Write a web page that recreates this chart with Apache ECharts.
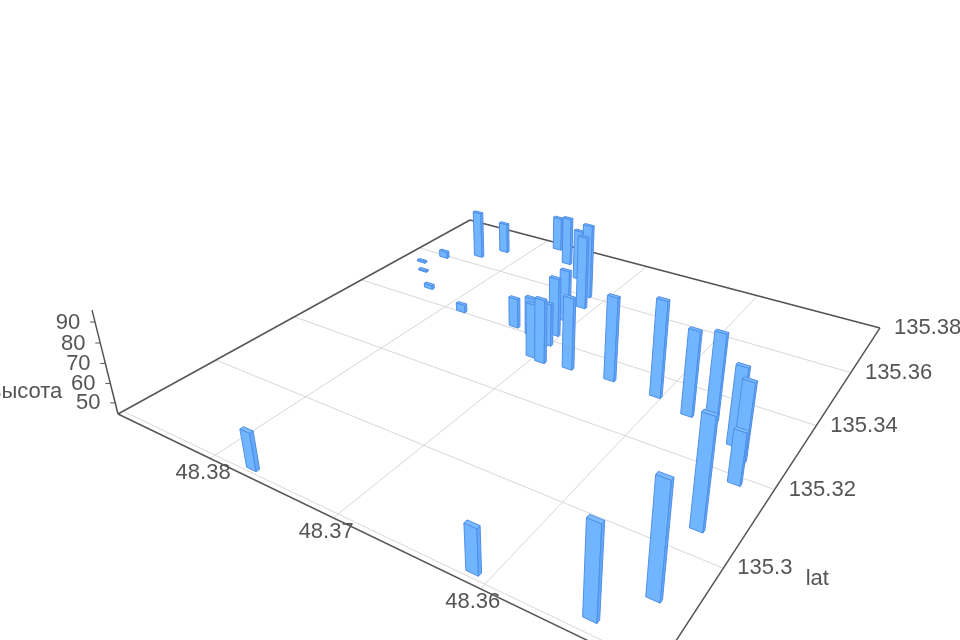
<!DOCTYPE html>
<html><head><meta charset="utf-8"><style>html,body{margin:0;background:#fff}#c{width:960px;height:640px;filter:blur(.6px)}</style>
<script src="https://cdn.jsdelivr.net/npm/echarts@6/dist/echarts.min.js"></script></head><body><div id="c"></div>
<script>
// values
const xValues=[48.3771,48.3610,48.3543,48.3523,48.3526,48.3524,48.3530,48.3539,48.3561,48.3577,48.3604,48.3640,48.3833,48.3820,48.3783,48.3761,48.3716,48.3738,48.3710,48.3710,48.3705,48.3672,48.3737,48.3720,48.3702,48.3693,48.3702,48.3857,48.3867,48.3855,48.3831,48.3785];
const yValues=[135.2809,135.2811,135.2824,135.2899,135.3054,135.3182,135.3241,135.3273,135.3320,135.3312,135.3335,135.3339,135.3641,135.3694,135.3773,135.3718,135.3601,135.3665,135.3553,135.3486,135.3425,135.3332,135.3410,135.3400,135.3331,135.3324,135.3385,135.3593,135.3545,135.3510,135.3451,135.3404];
const zValues=[62.9,65.6,86.4,96.1,96.1,69.8,82.9,83.3,88.4,87.2,93.7,87.9,71.7,62.1,64.3,72.4,85.8,73.2,84.8,72.9,76.0,82.2,60.5,65.1,73.1,78.1,67.2,48.1,45.2,45.1,46.5,48.6];
const xTicks=[48.38,48.37,48.36];
const yTicks=[135.28,135.3,135.32,135.34,135.36,135.38];
const yTickLabels=['','135.3','135.32','135.34','135.36','135.38'];
const zTicks=[50,60,70,80,90];
const xMin=48.3502,xMax=48.3887,yMin=135.279,yMax=135.38,zMin=44.2,zMax=95.6;
const zName='высота',yName='lat';

const P={a:346.5,b:572.6,c:118,d:63.3,e:-90.8,f:414,g:-.2908,h:.4693,mu:-.0597,vx:527,vy:2051};
function depth(x,y){return P.g*(xMax-x)/(xMax-xMin)+P.h*(y-yMin)/(yMax-yMin)+1;}
function proj(x,y,z){const s=(xMax-x)/(xMax-xMin),t=(y-yMin)/(yMax-yMin),zn=(z-zMin)/(zMax-zMin),w=P.g*s+P.h*t+1,m=P.mu*zn;
 return [(P.a*s+P.b*t+P.c+m*P.vx)/(w+m),(P.d*s+P.e*t+P.f+m*P.vy)/(w+m)];}
const bx=.0004,by=.00036;
const edge='#4f8fe9';
function poly(pts,fill){return {type:'polygon',shape:{points:pts},style:{fill:fill,stroke:edge,lineWidth:1,lineJoin:'round'}};}
function renderBar(p,api){const x=api.value(0),y=api.value(1),z=api.value(2);
 const a=(u,v,h)=>proj(x+u,y+v,h);
 return {type:'group',children:[
  poly([a(bx,-by,zMin),a(-bx,-by,zMin),a(-bx,-by,z),a(bx,-by,z)],'#72b5ff'),
  poly([a(-bx,-by,zMin),a(-bx,by,zMin),a(-bx,by,z),a(-bx,-by,z)],'#66a9f8'),
  poly([a(bx,-by,z),a(-bx,-by,z),a(-bx,by,z),a(bx,by,z)],'#7dbbff')]};}
function line(p,q,stroke,w){return {type:'line',shape:{x1:p[0],y1:p[1],x2:q[0],y2:q[1]},style:{stroke:stroke,lineWidth:w}};}
function label(pos,text,dx,dy,align){return {type:'text',x:pos[0]+dx,y:pos[1]+dy,style:{text:text,fill:'#555',font:'22px "Liberation Sans"',align:align||'center',verticalAlign:'middle'}};}
function renderFrame(){
 const c=[],gridC='#d8d8d8',axisC='#555';
 xTicks.forEach(v=>c.push(line(proj(v,yMin,zMin),proj(v,yMax,zMin),gridC,1)));
 yTicks.forEach(v=>c.push(line(proj(xMin,v,zMin),proj(xMax,v,zMin),gridC,1)));
 c.push(line(proj(xMax,yMin,zMin),proj(xMin,yMin,zMin),axisC,1.5));
 c.push(line(proj(xMin,yMin,zMin),proj(xMin,yMax,zMin),axisC,1.5));
 c.push(line(proj(xMin,yMax,zMin),proj(xMax,yMax,zMin),axisC,1.5));
 c.push(line(proj(xMax,yMax,zMin),proj(xMax,yMin,zMin),axisC,1.5));
 c.push(line(proj(xMax,yMin,zMin),proj(xMax,yMin,zMax),axisC,1.5));
 zTicks.forEach(v=>{const q=proj(xMax,yMin,v);c.push(line(q,[q[0]-5,q[1]],axisC,1));c.push(label(q,String(v),-27,0.5));});
 xTicks.forEach(v=>{const q=proj(v,yMin+.001,zMin);c.push(label(q,String(v),-12,18));});
 yTicks.forEach((v,i)=>{if(yTickLabels[i]){const q=proj(xMin,v,zMin);c.push(label(q,yTickLabels[i],14,0,'left'));}});
 const lat=proj(xMin,135.3,zMin);c.push(label(lat,yName,94,11));
 const zq=proj(xMax,yMin,60);c.push(label(zq,zName,-48,9,'right'));
 return {type:'group',children:c};
}
const order=xValues.map((v,i)=>i).sort((i,j)=>depth(xValues[j],yValues[j])-depth(xValues[i],yValues[i]));
const barData=order.map(i=>[xValues[i],yValues[i],zValues[i]]);
const chart=echarts.init(document.getElementById('c'));
chart.setOption({animation:false,backgroundColor:'#fff',series:[
 {type:'custom',coordinateSystem:'none',silent:true,data:[[0]],renderItem:renderFrame,z:1},
 {type:'custom',coordinateSystem:'none',silent:true,data:barData,renderItem:renderBar,z:2}]});
</script></body></html>
